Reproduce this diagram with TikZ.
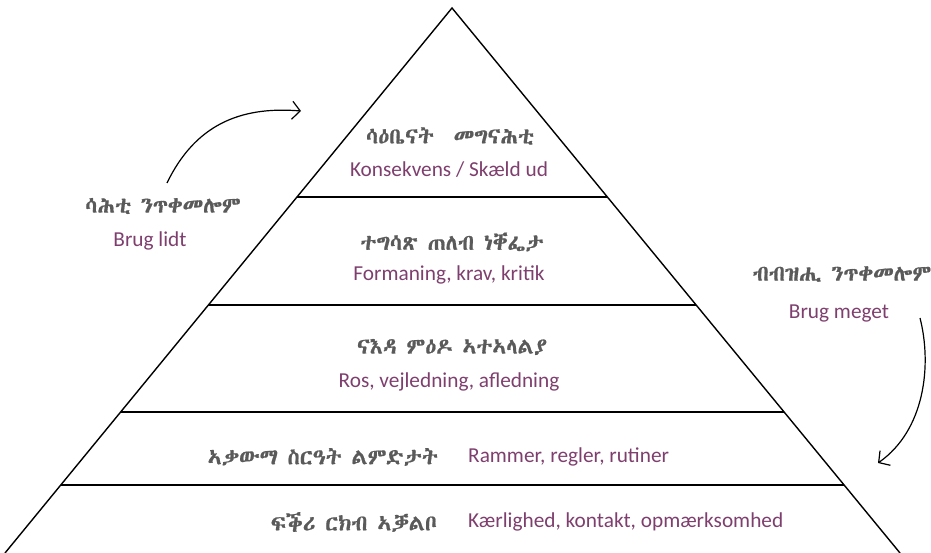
\documentclass[tikz,border=0pt]{standalone}
\usepackage{fontspec}
\setmainfont{Carlito}
\IfFontExistsTF{Abyssinica SIL}{\newfontfamily\ethfont[FakeBold=0.8]{Abyssinica SIL}}{%
  \IfFontExistsTF{FreeSerif}{\newfontfamily\ethfont[FakeBold=0.8]{FreeSerif}}{%
    \IfFontExistsTF{FreeSans}{\newfontfamily\ethfont[FakeBold=0.8]{FreeSans}}{\newfontfamily\ethfont{DejaVu Sans}}}}
\usetikzlibrary{arrows.meta,calc}
\definecolor{plum}{HTML}{7E3F6E}
\definecolor{ethgray}{HTML}{5A5A5A}
\tikzset{
  ethtext/.style={font=\ethfont\fontsize{22}{26}\selectfont, text=ethgray, inner sep=0pt},
  lattext/.style={font=\fontsize{21.3}{25}\selectfont, text=plum, inner sep=0pt},
  pyr/.style={line width=1.4pt, black},
  bendarrow/.style={line width=1.2pt, -{Straight Barb[length=8pt,width=18pt,line width=1.2pt]}}
}
\begin{document}
\begin{tikzpicture}[x=1pt,y=-1pt]
\useasboundingbox (0,0) rectangle (931,553);
\coordinate (apex) at (452,8);
\coordinate (bl) at (5,553);
\coordinate (br) at (900,553);
\draw[pyr] (bl) -- (apex) -- (br);
\foreach \t/\n in {0.3468/a,0.5450/b,0.7413/c,0.8752/d}{
  \coordinate (L\n) at ($(apex)!\t!(bl)$);
  \coordinate (R\n) at ($(apex)!\t!(br)$);
  \draw[pyr] (L\n) -- (R\n);
}
% tier texts
\node[ethtext] (t1e) at (450,136) {ሳዕቤናት\hspace{0.9em}መግናሕቲ};
\node[lattext] (t1l) at (449,170) {Konsekvens / Skæld ud};
\node[ethtext] (t2e) at (452,242) {ተግሳጽ ጠለብ ነቐፌታ};
\node[lattext] (t2l) at (449,275) {Formaning, krav, kritik};
\node[ethtext] (t3e) at (452,347) {ናእዳ ምዕዶ ኣተኣላልያ};
\node[lattext] (t3l) at (449,382) {Ros, vejledning, afledning};
\node[ethtext,anchor=east] (t4e) at (438,457) {ኣቃውማ ስርዓት ልምድታት};
\node[lattext,anchor=west] (t4l) at (468,457) {Rammer, regler, rutiner};
\node[ethtext,anchor=east] (t5e) at (437,522) {ፍቕሪ ርክብ ኣቓልቦ};
\node[lattext,anchor=west] (t5l) at (468,522) {Kærlighed, kontakt, opmærksomhed};
% side labels
\node[ethtext] (le) at (163,206) {ሳሕቲ ንጥቀመሎም};
\node[lattext] (ll) at (150,241) {Brug lidt};
\node[ethtext] (re) at (842,274) {ብብዝሒ ንጥቀመሎም};
\node[lattext] (rl) at (839,313) {Brug meget};
% arrows
\coordinate (a1s) at (167,183);
\coordinate (a1e) at (301,111);
\draw[bendarrow] (a1s) .. controls (195,125) and (240,106) .. (a1e);
\coordinate (a2s) at (920,318);
\coordinate (a2e) at (878,463);
\draw[bendarrow] (a2s) .. controls (932,365) and (925,430) .. (a2e);
\end{tikzpicture}
\end{document}
